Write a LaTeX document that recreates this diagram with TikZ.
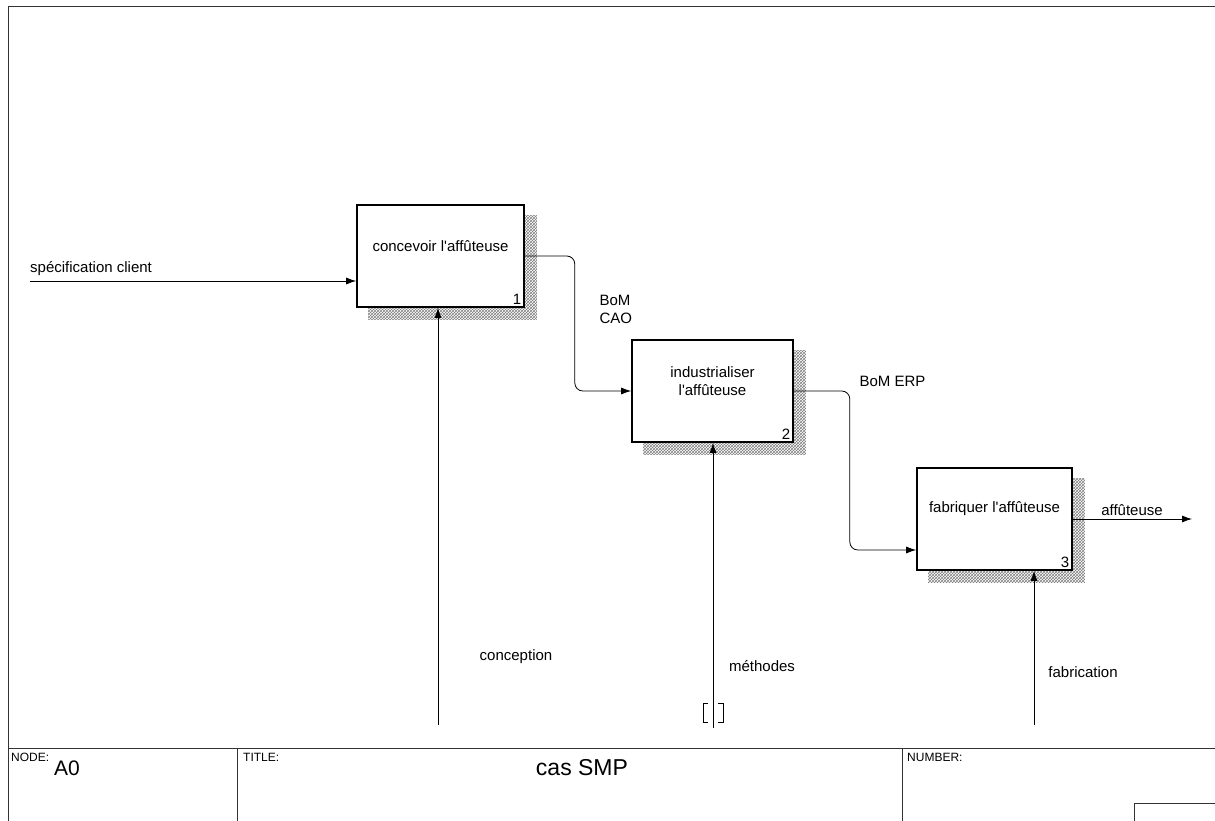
\documentclass[tikz,border=0pt]{standalone}
\usepackage{fontspec}
\setmainfont{Liberation Sans}[Ligatures=TeXOff]
\usetikzlibrary{arrows.meta, patterns, backgrounds, positioning}
\tikzset{
  activity/.style={draw, line width=1.6pt, minimum width=#1, minimum height=102pt, inner sep=0pt},
  flow/.style={line width=0.8pt, -{Latex[length=10pt,width=7pt]}},
  frameline/.style={line width=1pt, draw=black!80},
  tag/.style={anchor=north west, inner sep=0pt, font=\fontsize{12}{14}\selectfont},
}
\newcommand{\boxshadow}[1]{\begin{scope}[on background layer]
  \fill[pattern=crosshatch, pattern color=black!50] ([yshift=-11pt]#1.north east) -- ([xshift=12pt,yshift=-11pt]#1.north east) -- ([xshift=12pt,yshift=-12pt]#1.south east) -- ([xshift=12pt,yshift=-12pt]#1.south west) -- ([xshift=12pt]#1.south west) -- (#1.south east) -- cycle;
\end{scope}}

\begin{document}
\begin{tikzpicture}[x=1pt, y=-1pt, font=\fontsize{15}{18}\selectfont]
\useasboundingbox (0,0) rectangle (1215,821);
% frame and title block
\draw[frameline] (1215,7) -- (8,7) -- (8,821);
\draw[frameline] (8,748) -- (1215,748);
\draw[frameline] (237,748) -- (237,821);
\draw[frameline] (902,748) -- (902,821);
\draw[frameline] (1134,821) -- (1134,803) -- (1215,803);
\node[tag] (nodetag) at (11,753) {NODE:};
\node[font=\fontsize{21}{23}\selectfont] (nodeno) at (67,768) {A0};
\node[tag] (titletag) at (243,753) {TITLE:};
\node[font=\fontsize{23}{25}\selectfont] (title) at (582,768) {cas SMP};
\node[tag] (numtag) at (907,753) {NUMBER:};
% activities
\node[activity=167pt, label={[yshift=10pt]center:concevoir l'affûteuse}, label={[anchor=south east]south east:1}] (conc) at (440.5,256) {};
\node[activity=161pt, label={[yshift=10pt, align=center]center:industrialiser\\l'affûteuse}, label={[anchor=south east]south east:2}] (indus) at (712.5,391) {};
\node[activity=155pt, label={[yshift=10pt]center:fabriquer l'affûteuse}, label={[anchor=south east]south east:3}] (fabr) at (994.5,519) {};
\boxshadow{conc}
\boxshadow{indus}
\boxshadow{fabr}
% inputs and outputs
\coordinate (spec) at (30,281);
\draw[flow] (spec) -- (spec -| conc.west);
\node[anchor=south west, inner sep=0pt, yshift=5pt] (speclbl) at (spec) {spécification client};
\draw[flow, rounded corners=8pt] (conc.east) -- ++(50,0) |- (indus.west);
\node[anchor=west, align=left] (bomcao) at (596,309) {BoM\\CAO};
\draw[flow, rounded corners=8pt] (indus.east) -- ++(56,0) |- ([yshift=-31pt]fabr.west);
\node[anchor=west] (bomerp) at (856,381) {BoM ERP};
\coordinate (prod) at (1192,519);
\draw[flow] (fabr.east) -- (prod);
\node (prodlbl) at (1132,510) {affûteuse};
% mechanisms
\coordinate (mconc) at (438,725);
\coordinate (mindus) at (713,728);
\coordinate (mfabr) at (1034,725);
\draw[flow] (mconc) -- (mconc |- conc.south);
\draw[flow] (mindus) -- (mindus |- indus.south);
\draw[flow] (mfabr) -- (mfabr |- fabr.south);
\draw[line width=1pt] (mindus) ++(-5,-6) -- ++(-5,0) -- ++(0,-19) -- ++(5,0);
\draw[line width=1pt] (mindus) ++(5,-6) -- ++(5,0) -- ++(0,-19) -- ++(-5,0);
\node (conclbl) at (516,657) {conception};
\node (induslbl) at (762,666) {méthodes};
\node (fabrlbl) at (1083,672) {fabrication};
\end{tikzpicture}
\end{document}
